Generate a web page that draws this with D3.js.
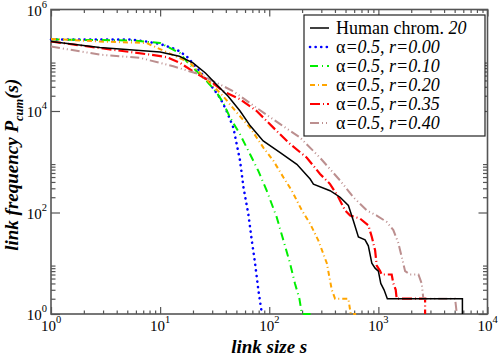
<!DOCTYPE html>
<html>
<head>
<meta charset="utf-8">
<script src="https://cdn.jsdelivr.net/npm/d3@7"></script>
<style>
  body { margin: 0; background: #fff; }
  svg { display: block; font-family: "Liberation Serif", "DejaVu Serif", serif; }
</style>
</head>
<body>
<svg width="498" height="356"></svg>
<script>
// cumulative link-size distributions
const humanS = [1, 2.8, 6.5, 10, 15, 20, 26, 33, 42, 54, 67, 88, 126, 179, 237, 254, 361, 446, 531, 590, 656, 755, 809, 871, 933, 1000, 1052, 1127, 1208, 5890, 5890];
const humanP = [234000, 178000, 155000, 145000, 120000, 89000, 56000, 33000, 19500, 10000, 5100, 2570, 1510, 890, 457, 363, 269, 200, 138, 69, 33, 29, 22, 10, 8, 7, 4, 3, 2, 2, 1];

const r000S = [1, 5.3, 7.5, 10, 14.2, 17.5, 23.2, 28.6, 35.4, 40.7, 46.9, 50.7, 54, 58, 64.3, 69.2, 74.1, 79.4, 84.1, 85.9];
const r000P = [257000, 257000, 234000, 209000, 162000, 120000, 60000, 34000, 18200, 10000, 4700, 2040, 1050, 316, 93, 28, 10, 3, 1.3, 1];

const r010S = [1, 5.6, 10, 15.2, 17.5, 26.7, 33, 37.9, 43.8, 54, 66.7, 79.4, 94.8, 117, 135, 155, 172, 189, 199, 245];
const r010P = [257000, 245000, 219000, 138000, 95000, 39000, 23000, 14500, 7400, 3470, 1410, 660, 269, 81, 28, 10, 4, 2, 1, 1];

const r020S = [1, 2.8, 7.5, 18.8, 37.9, 50.4, 66.7, 88.3, 109, 135, 161, 199, 237, 282, 337, 374, 401, 531, 558, 625];
const r020P = [263000, 234000, 219000, 89000, 19500, 9300, 4700, 1900, 1050, 490, 269, 110, 60, 28, 10, 3, 2, 2, 1, 1];

const r035S = [1, 2.8, 8.1, 11.5, 15.2, 20.1, 30.5, 37.9, 54, 76.7, 109, 155, 221, 292, 361, 430, 495, 551, 679, 809, 871, 933, 966, 1038, 1074, 1324, 1371, 1442, 1472, 2680, 2680];
const r035P = [234000, 174000, 129000, 115000, 89000, 60000, 35500, 24500, 17000, 10000, 4700, 2240, 1200, 575, 363, 200, 110, 87, 76, 56, 33, 18, 9, 7, 6, 6, 4, 3, 2, 2, 1];

const r040S = [1, 2.8, 6.5, 13.2, 23.2, 46.9, 76.7, 126, 191, 292, 446, 590, 783, 966, 1194, 1371, 1524, 1641, 1758, 1954, 2328, 2495, 2582, 5047, 5236];
const r040P = [186000, 129000, 112000, 76000, 52500, 24500, 11500, 5500, 3020, 1200, 427, 200, 110, 87, 65, 45, 25, 13, 7, 6, 6, 4, 2, 2, 1];

const seriesNames = ["Human chrom. 20", "r=0.00", "r=0.10", "r=0.20", "r=0.35", "r=0.40"];
const xMajor = [1, 10, 100, 1000, 10000];
const yMajor = [1, 100, 10000, 1000000];

const svg = d3.select("svg");
const plotL = 51, plotR = 487.5, plotT = 9.5, plotB = 314;

const x = d3.scaleLog().domain([1, 10000]).range([plotL, plotR]);
const y = d3.scaleLog().domain([1, 1000000]).range([plotB, plotT]);

// minor ticks: 2..9 times each labelled decade
function minors(majors) {
    const out = [];
    majors.slice(0, -1).forEach(m => { for (let k = 2; k <= 9; k++) out.push(m * k); });
    return out;
}

const axisColor = "#555";

function drawAxis(gen, tx, ty, values, size) {
    const g = svg.append("g")
        .attr("transform", `translate(${tx},${ty})`)
        .call(gen.tickValues(values).tickSize(size).tickFormat(""));
    g.select(".domain").remove();
    g.selectAll("line").attr("stroke", axisColor).attr("stroke-width", 1.2);
}

// ticks point inward on all four sides
drawAxis(d3.axisBottom(x), 0, plotB, xMajor, -7);
drawAxis(d3.axisBottom(x), 0, plotB, minors(xMajor), -3.5);
drawAxis(d3.axisTop(x), 0, plotT, xMajor, -7);
drawAxis(d3.axisTop(x), 0, plotT, minors(xMajor), -3.5);
drawAxis(d3.axisLeft(y), plotL, 0, yMajor, -9);
drawAxis(d3.axisLeft(y), plotL, 0, minors(yMajor), -4.5);
drawAxis(d3.axisRight(y), plotR, 0, yMajor, -9);
drawAxis(d3.axisRight(y), plotR, 0, minors(yMajor), -4.5);

svg.append("rect")
    .attr("x", plotL).attr("y", plotT)
    .attr("width", plotR - plotL).attr("height", plotB - plotT)
    .attr("fill", "none")
    .attr("stroke", axisColor)
    .attr("stroke-width", 1.6);

// tick labels 10^n
xMajor.forEach(v => {
    const t = svg.append("text")
        .attr("x", x(v)).attr("y", 331)
        .attr("text-anchor", "middle")
        .attr("font-size", 15);
    t.append("tspan").text("10");
    t.append("tspan").attr("dy", -8).attr("font-size", 10.5).text(Math.round(Math.log10(v)));
});
yMajor.forEach(v => {
    const t = svg.append("text")
        .attr("x", 47).attr("y", y(v) + 6)
        .attr("text-anchor", "end")
        .attr("font-size", 15);
    t.append("tspan").text("10");
    t.append("tspan").attr("dy", -8).attr("font-size", 10.5).text(Math.round(Math.log10(v)));
});

// axis titles
svg.append("text")
    .attr("x", (plotL + plotR) / 2).attr("y", 353)
    .attr("text-anchor", "middle")
    .attr("font-size", 19).attr("font-weight", "bold").attr("font-style", "italic")
    .text("link size s");

const yt = svg.append("text")
    .attr("transform", `translate(18,${(plotT + plotB) / 2 + 3}) rotate(-90)`)
    .attr("text-anchor", "middle")
    .attr("font-size", 19).attr("font-weight", "bold").attr("font-style", "italic");
yt.append("tspan").text("link frequency P");
yt.append("tspan").attr("dy", 5).attr("font-size", 12.5).text("cum");
yt.append("tspan").attr("dy", -5).text("(s)");

// curves
const series = [
    { s: humanS, p: humanP, color: "#000000", width: 1.5, dash: null, cap: "butt" },
    { s: r000S, p: r000P, color: "#0000ff", width: 2.6, dash: "0.1,5.5", cap: "round" },
    { s: r010S, p: r010P, color: "#00ee00", width: 2, dash: "8,4,1,4", cap: "butt" },
    { s: r020S, p: r020P, color: "#ffa500", width: 2, dash: "5,3,1,3", cap: "butt" },
    { s: r035S, p: r035P, color: "#ff0000", width: 2.2, dash: "10,3,1,3", cap: "butt" },
    { s: r040S, p: r040P, color: "#bc8f8f", width: 2, dash: "9,3,1,3,1,3", cap: "butt" }
];

const line = d3.line().x(d => x(d[0])).y(d => y(d[1]));

// draw the model curves first, human data on top
series.slice(1).concat(series.slice(0, 1)).forEach(d => {
    svg.append("path")
        .datum(d3.zip(d.s, d.p))
        .attr("d", line)
        .attr("fill", "none")
        .attr("stroke", d.color)
        .attr("stroke-width", d.width)
        .attr("stroke-linecap", d.cap)
        .attr("stroke-dasharray", d.dash);
});

// legend
const lg = svg.append("g");
lg.append("rect")
    .attr("x", 304).attr("y", 15)
    .attr("width", 181).attr("height", 121)
    .attr("fill", "#fff")
    .attr("stroke", "#222")
    .attr("stroke-width", 1.2);

series.forEach((d, i) => {
    const cy = 28 + i * 19;
    lg.append("line")
        .attr("x1", 310).attr("x2", 329)
        .attr("y1", cy).attr("y2", cy)
        .attr("stroke", d.color)
        .attr("stroke-width", d.width)
        .attr("stroke-linecap", d.cap)
        .attr("stroke-dasharray", d.dash);
    const t = lg.append("text")
        .attr("x", 336).attr("y", cy + 6)
        .attr("font-size", 18);
    if (i === 0) {
        t.append("tspan").text("Human chrom. ");
        t.append("tspan").attr("font-style", "italic").text("20");
    } else {
        t.append("tspan").text("α");
        t.append("tspan").attr("font-style", "italic").text("=0.5, " + seriesNames[i]);
    }
});
</script>
</body>
</html>
